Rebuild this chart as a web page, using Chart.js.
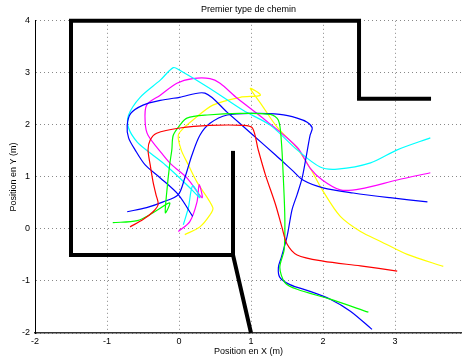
<!DOCTYPE html>
<html>
<head>
<meta charset="utf-8">
<script src="https://cdn.jsdelivr.net/npm/chart.js@4.4.1/dist/chart.umd.min.js"></script>
<style>
  html, body { margin: 0; padding: 0; background: #fff; }
  canvas { display: block; }
</style>
</head>
<body>
<canvas id="chemin" width="462" height="359"></canvas>
<script>
// Murs (obstacles)
var murX = [1, 0.75, -1.5, -1.5, 2.5, 2.5, 3.5];
var murY = [-2, -0.5, -0.5, 4, 4, 2.5, 2.5];
var cloisonX = [0.75, 0.75];
var cloisonY = [-0.5, 1.5];

// Trajectoires
var rougeX = [-0.68,-0.50,-0.36,-0.29,-0.32,-0.36,-0.40,-0.43,-0.40,-0.31,0.01,0.43,0.89,1.02,1.10,1.20,1.34,1.43,1.50,1.64,2.00,2.52,3.03];
var rougeY = [0.04,0.18,0.33,0.47,0.66,0.90,1.23,1.52,1.71,1.84,1.94,1.99,1.99,1.94,1.52,1.04,0.47,0.03,-0.29,-0.50,-0.62,-0.71,-0.81];

var vertX = [-0.92,-0.58,-0.36,-0.13,-0.19,-0.17,-0.13,-0.10,-0.08,0.01,0.11,0.39,0.85,1.27,1.38,1.42,1.45,1.47,1.46,1.40,1.47,1.64,2.10,2.63];
var vertY = [0.12,0.16,0.31,0.50,0.31,0.71,1.23,1.52,1.80,1.99,2.13,2.19,2.22,2.20,2.09,1.71,0.94,0.18,-0.40,-0.74,-1.03,-1.16,-1.35,-1.60];

var bleu1X = [-0.72,-0.45,-0.22,-0.01,0.08,0.18,0.29,0.43,0.67,1.03,1.40,1.64,1.78,1.85,1.82,1.77,1.71,1.64,1.57,1.50,1.42,1.38,1.40,1.54,1.82,2.10,2.38,2.68];
var bleu1Y = [0.33,0.41,0.52,0.66,0.98,1.42,1.80,2.03,2.19,2.22,2.20,2.13,2.05,1.94,1.80,1.42,0.98,0.66,0.37,-0.15,-0.55,-0.74,-0.93,-1.07,-1.20,-1.35,-1.58,-1.93];

var bleu2X = [0.19,-0.01,-0.26,-0.47,-0.61,-0.70,-0.72,-0.67,-0.50,-0.26,0.01,0.36,0.67,1.03,1.34,1.57,1.72,2.00,2.42,2.93,3.45];
var bleu2Y = [0.24,0.66,0.98,1.23,1.52,1.75,1.99,2.22,2.38,2.47,2.53,2.61,2.24,1.80,1.42,1.13,0.94,0.79,0.69,0.60,0.52];

var cyanX = [0.06,0.13,0.19,0.29,0.18,0.01,-0.19,-0.40,-0.58,-0.70,-0.70,-0.54,-0.26,-0.08,0.01,0.43,0.89,1.27,1.64,1.96,2.20,2.66,3.03,3.49];
var cyanY = [0.08,0.41,0.83,0.60,0.75,0.98,1.23,1.46,1.67,1.94,2.19,2.53,2.86,3.10,3.05,2.70,2.28,1.99,1.52,1.19,1.15,1.27,1.52,1.75];

var magentaX = [-0.01,0.15,0.25,0.28,0.32,0.11,-0.10,-0.22,-0.43,-0.47,-0.45,-0.26,-0.03,0.19,0.43,0.57,0.81,1.20,1.64,1.82,1.99,2.24,2.52,3.03,3.49];
var magentaY = [-0.05,0.14,0.52,0.85,0.60,0.98,1.23,1.42,1.80,2.05,2.38,2.57,2.80,2.89,2.89,2.80,2.51,2.09,1.57,1.17,0.94,0.75,0.77,0.94,1.08];

var jauneX = [0.08,0.29,0.43,0.47,0.25,0.13,0.03,-0.01,0.08,0.19,0.47,0.85,1.13,0.99,1.15,1.36,1.64,1.82,1.99,2.24,2.52,2.80,3.17,3.67];
var jauneY = [-0.11,0.04,0.27,0.41,0.90,1.23,1.52,1.80,1.96,2.09,2.38,2.53,2.57,2.70,2.38,1.96,1.55,1.17,0.75,0.24,-0.05,-0.24,-0.49,-0.72];

function points(xs, ys) {
  return xs.map(function (x, i) { return { x: x, y: ys[i] }; });
}

function trajet(xs, ys, couleur) {
  return {
    data: points(xs, ys),
    borderColor: couleur,
    borderWidth: 1.2,
    showLine: true,
    fill: false,
    pointRadius: 0,
    tension: 0.3
  };
}

function mur(xs, ys) {
  return {
    data: points(xs, ys),
    borderColor: '#000',
    borderWidth: 4,
    borderJoinStyle: 'miter',
    showLine: true,
    fill: false,
    pointRadius: 0,
    tension: 0,
    clip: false
  };
}

Chart.defaults.font.family = '"Liberation Sans", Arial, sans-serif';
Chart.defaults.font.size = 9;
Chart.defaults.color = '#000';

var ctx = document.getElementById('chemin');
var chart = new Chart(ctx, {
  type: 'scatter',
  data: {
    datasets: [
      mur(murX, murY),
      mur(cloisonX, cloisonY),
      trajet(rougeX, rougeY, '#ff0000'),
      trajet(vertX, vertY, '#00ff00'),
      trajet(bleu1X, bleu1Y, '#0000ff'),
      trajet(bleu2X, bleu2Y, '#0000ff'),
      trajet(cyanX, cyanY, '#00ffff'),
      trajet(magentaX, magentaY, '#ff00ff'),
      trajet(jauneX, jauneY, '#ffff00')
    ]
  },
  options: {
    responsive: false,
    animation: false,
    layout: { padding: 0 },
    plugins: {
      legend: { display: false },
      tooltip: { enabled: false },
      title: {
        display: true,
        text: 'Premier type de chemin',
        fullSize: false,
        font: { size: 9, weight: 'normal' },
        padding: { top: 4, bottom: 6 }
      }
    },
    scales: {
      x: {
        min: -2,
        max: 3.93,
        afterFit: function (s) { s.height = 26; },
        ticks: { stepSize: 1, includeBounds: false, padding: 3, maxRotation: 0 },
        grid: { color: '#888', drawTicks: false },
        border: { color: '#333', width: 1.5, dash: [1, 3] },
        title: { display: true, text: 'Position en X (m)', padding: { top: 0, bottom: 2 } }
      },
      y: {
        min: -2,
        max: 4,
        afterFit: function (s) { s.width = 35; },
        ticks: { stepSize: 1, padding: 5 },
        grid: { color: '#888', drawTicks: false },
        border: { color: '#000', width: 1, dash: [1, 3] },
        title: { display: true, text: 'Position en Y (m)', padding: { top: 8, bottom: 0 } }
      }
    }
  }
});
</script>
</body>
</html>
